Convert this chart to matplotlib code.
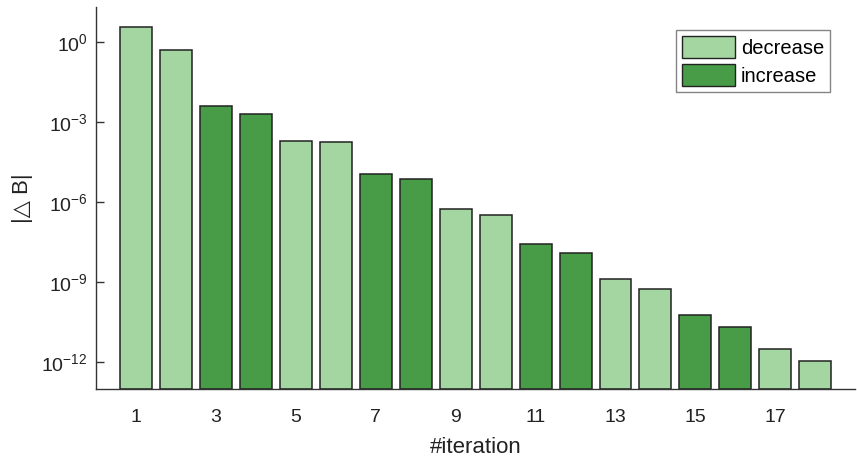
import numpy as np
import matplotlib.pyplot as plt
from matplotlib.patches import Patch
from matplotlib.ticker import FixedLocator, NullLocator

plt.rcParams['font.family'] = ['Liberation Sans', 'DejaVu Sans']
plt.rcParams['axes.unicode_minus'] = False
plt.rcParams['mathtext.fontset'] = 'custom'
plt.rcParams['mathtext.rm'] = 'Liberation Sans'

# |delta B| per iteration
iterations = np.arange(1, 19)
delta_b = [3.4, 0.49, 4.0e-3, 1.9e-3, 2.0e-4, 1.8e-4,
           1.1e-5, 7.3e-6, 5.5e-7, 3.2e-7, 2.7e-8, 1.2e-8,
           1.3e-9, 5.5e-10, 6.1e-11, 2.2e-11, 3.2e-12, 1.0e-12]
kind = ['decrease', 'decrease', 'increase', 'increase',
        'decrease', 'decrease', 'increase', 'increase',
        'decrease', 'decrease', 'increase', 'increase',
        'decrease', 'decrease', 'increase', 'increase',
        'decrease', 'decrease']
xticks = [1, 3, 5, 7, 9, 11, 13, 15, 17]
yticks = [1e-12, 1e-9, 1e-6, 1e-3, 1e0]

colors = {'decrease': '#a3d6a0', 'increase': '#489c48'}

fig = plt.figure(figsize=(8.57, 4.59), dpi=100)
ax = fig.add_axes([0.112, 0.152, 0.886, 0.833])

ax.bar(iterations, delta_b, width=0.8, bottom=1e-13,
       color=[colors[k] for k in kind], edgecolor='#222222', linewidth=1.1)

ax.set_yscale('log')
ax.set_ylim(1e-13, 20)
ax.set_xlim(0, 19)
ax.yaxis.set_major_locator(FixedLocator(yticks))
ax.yaxis.set_minor_locator(NullLocator())
ax.set_xticks(xticks)

for side in ['top', 'right']:
    ax.spines[side].set_visible(False)
for side in ['left', 'bottom']:
    ax.spines[side].set_color('#333333')
    ax.spines[side].set_linewidth(1.0)

ax.tick_params(axis='both', direction='in', length=6, width=1.0,
               color='#333333', labelsize=14, labelcolor='#222222')
ax.tick_params(axis='x', length=0, pad=14)
ax.tick_params(axis='y', pad=6)

ax.set_xlabel('#iteration', fontsize=16, color='#222222', labelpad=8)
ax.set_ylabel('|△ B|', fontsize=16, color='#222222', labelpad=6)

handles = [Patch(facecolor=colors['decrease'], edgecolor='#222222', label='decrease'),
           Patch(facecolor=colors['increase'], edgecolor='#222222', label='increase')]
ax.legend(handles=handles, loc='upper right', bbox_to_anchor=(0.98, 0.965),
          fontsize=14.5, frameon=True, fancybox=False, edgecolor='#666666',
          handlelength=2.6, handleheight=1.3, handletextpad=0.3,
          labelspacing=0.3, borderpad=0.3)

fig.savefig('out.png', dpi=100)
